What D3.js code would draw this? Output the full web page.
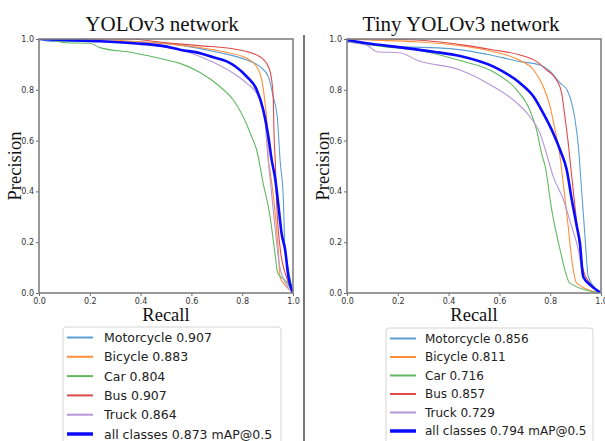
<!DOCTYPE html>
<html><head><meta charset="utf-8">
<script src="https://cdn.jsdelivr.net/npm/d3@7"></script>
<style>body{margin:0;background:#fff}svg{display:block}</style>
</head><body>
<svg id="c" width="605" height="441"></svg>
<script>
// ---------- DATA ----------
const classNames = ["Motorcycle", "Bicycle", "Car", "Bus", "Truck"];
const yoloAP = [0.907, 0.883, 0.804, 0.907, 0.864];
const tinyAP = [0.856, 0.811, 0.716, 0.857, 0.729];
const yoloMAP = 0.873;
const tinyMAP = 0.794;
const tickValues = [0, 0.2, 0.4, 0.6, 0.8, 1.0];
const titles = ["YOLOv3 network", "Tiny YOLOv3 network"];

// [recall, precision]
const yoloMotorcycle = [[0,1],[0.05,0.99],[0.2,0.99],[0.371,0.989],[0.567,0.974],[0.713,0.946],[0.818,0.917],[0.87,0.891],[0.903,0.852],[0.922,0.773],[0.938,0.694],[0.949,0.524],[0.962,0.37],[0.968,0.18],[0.975,0.13],[0.988,0.06],[1,0]];
const yoloBicycle = [[0,1],[0.3,0.995],[0.45,0.985],[0.555,0.976],[0.726,0.95],[0.818,0.924],[0.857,0.891],[0.877,0.839],[0.89,0.747],[0.899,0.642],[0.903,0.524],[0.91,0.48],[0.935,0.26],[0.942,0.17],[0.949,0.064],[0.975,0.024],[1,0]];
const yoloCar = [[0,1],[0.05,0.995],[0.109,0.985],[0.2,0.983],[0.24,0.966],[0.371,0.946],[0.503,0.917],[0.555,0.904],[0.634,0.868],[0.713,0.812],[0.765,0.76],[0.804,0.694],[0.837,0.616],[0.857,0.563],[0.883,0.43],[0.91,0.3],[0.929,0.155],[0.94,0.078],[0.975,0.044],[1,0]];
const yoloBus = [[0,1],[0.35,1],[0.503,0.985],[0.63,0.974],[0.79,0.957],[0.87,0.93],[0.903,0.891],[0.916,0.839],[0.922,0.773],[0.926,0.6],[0.93,0.524],[0.935,0.37],[0.949,0.18],[0.975,0.06],[1,0]];
const yoloTruck = [[0,1],[0.2,0.995],[0.437,0.976],[0.567,0.955],[0.686,0.908],[0.765,0.865],[0.818,0.826],[0.857,0.787],[0.877,0.75],[0.89,0.68],[0.9,0.55],[0.915,0.4],[0.93,0.25],[0.945,0.12],[0.97,0.04],[1,0]];
const yoloAll = [[0,1],[0.109,0.996],[0.24,0.991],[0.371,0.983],[0.503,0.97],[0.555,0.958],[0.634,0.944],[0.686,0.928],[0.739,0.912],[0.775,0.891],[0.818,0.852],[0.857,0.80],[0.883,0.72],[0.903,0.616],[0.916,0.524],[0.93,0.45],[0.942,0.35],[0.955,0.235],[0.969,0.17],[0.982,0.064],[1,0]];

const tinyMotorcycle = [[0,0.99],[0.078,0.979],[0.21,0.97],[0.406,0.962],[0.55,0.94],[0.682,0.911],[0.76,0.898],[0.8,0.872],[0.839,0.826],[0.866,0.80],[0.885,0.747],[0.898,0.681],[0.911,0.576],[0.924,0.4],[0.937,0.222],[0.95,0.064],[1,0]];
const tinyBicycle = [[0,1],[0.092,0.996],[0.274,0.989],[0.445,0.974],[0.577,0.95],[0.682,0.915],[0.735,0.878],[0.773,0.812],[0.8,0.733],[0.819,0.642],[0.835,0.563],[0.855,0.4],[0.871,0.261],[0.885,0.13],[0.905,0.038],[1,0]];
const tinyCar = [[0,0.99],[0.144,0.97],[0.274,0.957],[0.445,0.915],[0.577,0.87],[0.668,0.8],[0.72,0.72],[0.747,0.64],[0.767,0.545],[0.78,0.5],[0.806,0.327],[0.839,0.17],[0.878,0.038],[1,0]];
const tinyBus = [[0,1],[0.09,1],[0.274,0.996],[0.445,0.978],[0.577,0.957],[0.682,0.937],[0.747,0.911],[0.786,0.878],[0.825,0.839],[0.845,0.787],[0.858,0.694],[0.871,0.59],[0.878,0.524],[0.892,0.392],[0.911,0.222],[0.93,0.09],[0.957,0.038],[1,0]];
const tinyTruck = [[0,0.987],[0.078,0.976],[0.118,0.95],[0.21,0.946],[0.274,0.917],[0.445,0.878],[0.577,0.812],[0.655,0.76],[0.72,0.694],[0.76,0.629],[0.785,0.55],[0.812,0.458],[0.852,0.367],[0.885,0.26],[0.911,0.17],[0.93,0.064],[1,0]];
const tinyAll = [[0,0.996],[0.078,0.983],[0.21,0.967],[0.341,0.95],[0.445,0.933],[0.577,0.891],[0.682,0.826],[0.735,0.773],[0.773,0.707],[0.812,0.629],[0.839,0.563],[0.865,0.485],[0.885,0.367],[0.905,0.261],[0.917,0.196],[0.93,0.064],[0.96,0.03],[1,0]];

const classColors = ["#5c9fd3", "#ff8f3a", "#62b862", "#e04a4a", "#b597d8"];
const allColor = "#0a0aff";

// ---------- DRAW ----------
const svg = d3.select("#c");
const panels = [
  {x0: 39, x1: 293, title: titles[0], titleX: 162, curves: [yoloMotorcycle, yoloBicycle, yoloCar, yoloBus, yoloTruck], all: yoloAll, ap: yoloAP, map: yoloMAP,
   leg: {x: 63, y: 327, w: 218, lineX: 67, textX: 104, row0: 337.5, step: 19.3, fs: 12.5}},
  {x0: 347, x1: 601, title: titles[1], titleX: 461, curves: [tinyMotorcycle, tinyBicycle, tinyCar, tinyBus, tinyTruck], all: tinyAll, ap: tinyAP, map: tinyMAP,
   leg: {x: 386, y: 328, w: 207, lineX: 390, textX: 425, row0: 338.5, step: 18.5, fs: 12}}
];
const yTop = 39, yBot = 293;

// divider
svg.append("line").attr("x1", 304).attr("x2", 304).attr("y1", 35).attr("y2", 441)
  .attr("stroke", "#555").attr("stroke-width", 1.6);

panels.forEach((p, pi) => {
  const x = d3.scaleLinear().domain([0, 1]).range([p.x0, p.x1]);
  const y = d3.scaleLinear().domain([0, 1]).range([yBot, yTop]);
  const g = svg.append("g");

  const line = d3.line().x(d => x(d[0])).y(d => y(d[1])).curve(d3.curveMonotoneX);
  const clipId = "clip" + pi;
  svg.append("clipPath").attr("id", clipId).append("rect")
    .attr("x", p.x0).attr("y", yTop).attr("width", p.x1 - p.x0).attr("height", yBot - yTop);

  const lines = g.append("g").attr("clip-path", `url(#${clipId})`);
  p.curves.forEach((c, i) => {
    lines.append("path").datum(c).attr("d", line).attr("fill", "none")
      .attr("stroke", classColors[i]).attr("stroke-width", 1.1).attr("stroke-linejoin", "round");
  });
  lines.append("path").datum(p.all).attr("d", line).attr("fill", "none")
    .attr("stroke", allColor).attr("stroke-width", 2.6).attr("stroke-linejoin", "round");

  // axes
  const ax = g.append("g").attr("transform", `translate(0,${yBot})`)
    .call(d3.axisBottom(x).tickValues(tickValues).tickFormat(d3.format(".1f")).tickSize(3).tickPadding(2));
  const ay = g.append("g").attr("transform", `translate(${p.x0},0)`)
    .call(d3.axisLeft(y).tickValues(tickValues).tickFormat(d3.format(".1f")).tickSize(3).tickPadding(2));
  [ax, ay].forEach(a => {
    a.select(".domain").remove();
    a.selectAll(".tick line").attr("stroke", "#444").attr("stroke-width", 0.8);
    a.selectAll(".tick text").attr("fill", "#333").style("font-family", "DejaVu Sans, sans-serif").style("font-size", "8px");
  });

  // frame
  g.append("rect").attr("x", p.x0).attr("y", yTop).attr("width", p.x1 - p.x0).attr("height", yBot - yTop)
    .attr("fill", "none").attr("stroke", "#808080").attr("stroke-width", 1.6);

  // titles and labels
  g.append("text").attr("x", p.titleX).attr("y", 31).attr("text-anchor", "middle")
    .style("font-family", "Liberation Serif, Times New Roman, serif").style("font-size", "21px").attr("fill", "#111")
    .text(p.title);
  g.append("text").attr("x", (p.x0 + p.x1) / 2).attr("y", 321).attr("text-anchor", "middle")
    .style("font-family", "Liberation Serif, Times New Roman, serif").style("font-size", "18.5px").attr("fill", "#111")
    .text("Recall");
  g.append("text").attr("transform", `translate(${p.x0 - 18},${(yTop + yBot) / 2}) rotate(-90)`).attr("text-anchor", "middle")
    .style("font-family", "Liberation Serif, Times New Roman, serif").style("font-size", "18.5px").attr("fill", "#111")
    .text("Precision");

  // legend
  const L = p.leg;
  const lg = g.append("g");
  lg.append("rect").attr("x", L.x).attr("y", L.y).attr("width", L.w).attr("height", 130).attr("rx", 3)
    .attr("fill", "#fff").attr("stroke", "#d4d4d4").attr("stroke-width", 1);
  const labels = classNames.map((n, i) => `${n} ${p.ap[i].toFixed(3)}`).concat([`all classes ${p.map.toFixed(3)} mAP@0.5`]);
  labels.forEach((t, i) => {
    const cy = L.row0 + i * L.step;
    lg.append("line").attr("x1", L.lineX).attr("x2", L.lineX + 26).attr("y1", cy).attr("y2", cy)
      .attr("stroke", i < 5 ? classColors[i] : allColor).attr("stroke-width", i < 5 ? 2 : 3.5);
    lg.append("text").attr("x", L.textX).attr("y", cy).attr("dy", "0.36em")
      .style("font-family", "DejaVu Sans, sans-serif").style("font-size", L.fs + "px").attr("fill", "#222")
      .text(t);
  });
});
</script>
</body></html>
